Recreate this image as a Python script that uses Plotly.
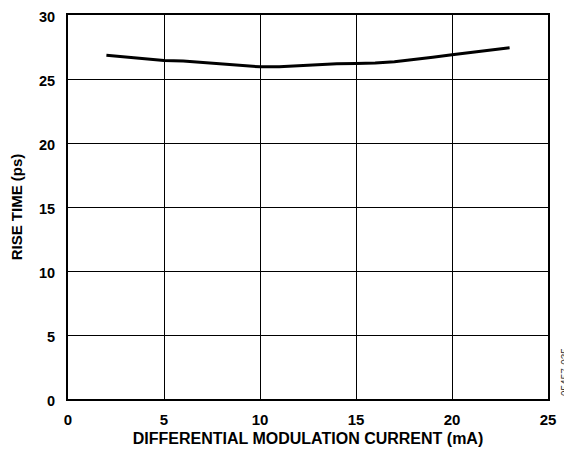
import plotly.graph_objects as go

current_ma = [2, 3, 4, 5, 6, 7, 8, 9, 10, 11, 12, 13, 14, 15, 16, 17, 18, 19, 20, 21, 22, 23]
rise_time_ps = [26.85, 26.7, 26.55, 26.45, 26.4, 26.3, 26.15, 26.05, 25.95, 25.95, 26.05, 26.1,
                26.2, 26.22, 26.25, 26.35, 26.5, 26.7, 26.9, 27.1, 27.3, 27.45]
x_ticks = [0, 5, 10, 15, 20, 25]
y_ticks = [0, 5, 10, 15, 20, 25, 30]

fig = go.Figure()
fig.add_trace(go.Scatter(x=current_ma, y=rise_time_ps, mode="lines",
                         line=dict(color="black", width=3), showlegend=False))

FAM = "Liberation Sans, Arial, sans-serif"
fig.update_layout(
    width=564, height=441,
    margin=dict(l=60, r=24, t=7, b=50),
    paper_bgcolor="white", plot_bgcolor="white",
    font=dict(family=FAM, size=15, color="black"),
    xaxis=dict(range=[0, 25], tickvals=x_ticks, showgrid=True, gridcolor="black", gridwidth=1.2,
               showline=True, linecolor="black", linewidth=2, mirror=True, zeroline=False,
               automargin=False, ticks="", ticklabelstandoff=6, ticklabeloverflow="allow",
               tickfont=dict(family=FAM, size=15, color="black", weight="bold"),
               title=dict(text="<b>DIFFERENTIAL MODULATION CURRENT (mA)</b>", standoff=6,
                          font=dict(family=FAM, size=16, color="black"))),
    yaxis=dict(range=[0, 30], tickvals=y_ticks, showgrid=True, gridcolor="black", gridwidth=1.2,
               showline=True, linecolor="black", linewidth=2, mirror=True, zeroline=False,
               automargin=False, ticks="", ticklabelstandoff=8, ticklabeloverflow="allow",
               ticklabelshift=2,
               tickfont=dict(family=FAM, size=14.5, color="black", weight="bold"),
               title=dict(text="<b>RISE TIME (ps)</b>", standoff=14,
                          font=dict(family=FAM, size=15, color="black"))),
)
fig.add_annotation(text="05457-035", xref="paper", yref="paper", x=1.0, y=0.0,
                   xanchor="center", yanchor="middle",
                   xshift=17, yshift=27, showarrow=False, textangle=-90,
                   font=dict(family=FAM, size=10, color="#333333"))
fig.write_html("out.html")
